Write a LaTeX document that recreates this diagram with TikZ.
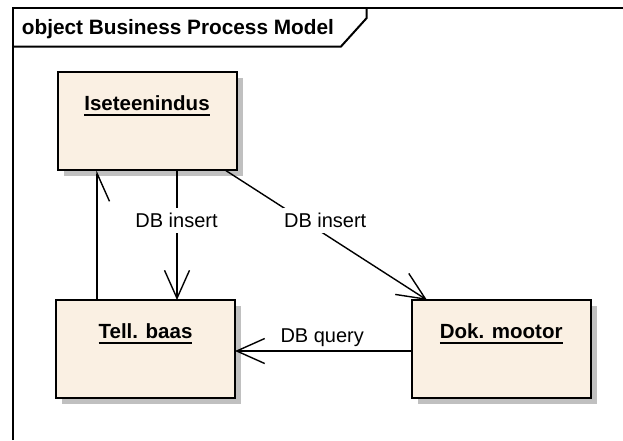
\documentclass[tikz,border=0pt]{standalone}
\usepackage{fontspec}
\setmainfont{Liberation Sans}
\usetikzlibrary{arrows.meta,shadows}
\definecolor{objfill}{HTML}{FAF0E3}
\definecolor{shadowgray}{HTML}{C0C0C0}
% underlined object name with a thick rule
\newcommand\ulname[1]{\sbox0{#1}\rlap{\usebox0}\rule[-5.5pt]{\wd0}{2pt}}

\begin{document}
\begin{tikzpicture}[x=1pt,y=-1pt,
  frameline/.style={line width=2pt},
  objbox/.style={draw, line width=2pt, fill=objfill,
    minimum width=179pt, minimum height=98pt, inner sep=0pt, outer sep=0pt,
    drop shadow={shadow xshift=6pt, shadow yshift=-6pt, fill=shadowgray, opacity=1}},
  objname/.style={font=\fontsize{20.5}{24}\selectfont\bfseries, inner sep=0pt, anchor=base},
  link/.style={line width=1.4pt, -{Straight Barb[length=28pt,width=25pt]}},
  halflink/.style={line width=1.4pt, -{Straight Barb[length=28pt,width=25pt,right]}},
  linklabel/.style={font=\fontsize{20}{24}\selectfont, inner xsep=1.5pt, inner ysep=5pt, anchor=base}
]
\useasboundingbox (0,0) rectangle (623,440);

% diagram frame with its name tab
\draw[frameline] (13,440) -- (13,8) -- (623,8);
\draw[frameline] (13,46.5) -- (341,46.5) -- (366.7,18) -- (366.7,8);
\node[font=\fontsize{20.8}{24}\selectfont\bfseries, inner sep=0pt, anchor=base west]
  (title) at (21.7,34.3) {object Business Process Model};

% objects
\node[objbox] (iset) at (147,121) {};
\node[objbox] (tell) at (145.5,349) {};
\node[objbox] (dok)  at (501.2,349) {};
\node[objname] (isetname) at ([yshift=-38pt]iset.north) {\ulname{Iseteenindus}};
\node[objname] (tellname) at ([yshift=-38pt]tell.north) {\ulname{Tell. baas}};
\node[objname] (dokname)  at ([yshift=-38pt]dok.north)  {\ulname{Dok. mootor}};

% links
\draw[halflink] (97,0 |- tell.north) -- (97,0 |- iset.south);
\draw[link] (177,0 |- iset.south) -- (177,0 |- tell.north);
\draw[link] (225,0 |- iset.south) -- (427,0 |- dok.north);
\draw[link] (dok.west |- 0,351) -- (tell.east |- 0,351);

% link labels
\node[linklabel, fill=white] (ins1) at (176.5,227.7) {DB insert};
\node[linklabel, fill=white] (ins2) at (325.2,227.7) {DB insert};
\node[linklabel] (query) at (322.2,342.3) {DB query};
\end{tikzpicture}
\end{document}
